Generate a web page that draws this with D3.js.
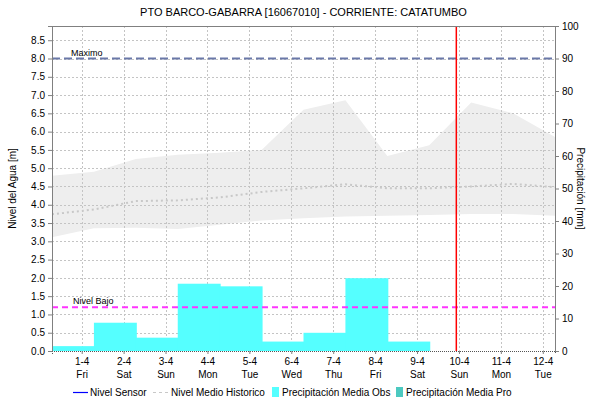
<!DOCTYPE html>
<html>
<head>
<meta charset="utf-8">
<script src="https://cdn.jsdelivr.net/npm/d3@7"></script>
<style>
  html, body { margin: 0; padding: 0; background: #fff; }
  svg { display: block; font-family: "Liberation Sans", Arial, sans-serif; }
</style>
</head>
<body>
<svg id="chart" width="590" height="402"></svg>
<script>
// Station level chart: historical band, median level, daily rainfall bars.
const title = "PTO BARCO-GABARRA [16067010] - CORRIENTE: CATATUMBO";

// Hydrological days run 07:00 to 07:00
const bandTimes = [
  "2022-03-31T07:00", "2022-04-01T07:00", "2022-04-02T07:00", "2022-04-03T07:00",
  "2022-04-04T07:00", "2022-04-05T07:00", "2022-04-06T07:00", "2022-04-07T07:00",
  "2022-04-08T07:00", "2022-04-09T07:00", "2022-04-10T07:00", "2022-04-11T07:00",
  "2022-04-12T07:00"
];
const bandUpper  = [4.79, 4.90, 5.25, 5.37, 5.42, 5.50, 6.60, 6.86, 5.33, 5.63, 6.80, 6.50, 5.85];
const bandLower  = [3.11, 3.36, 3.37, 3.34, 3.45, 3.57, 3.63, 3.68, 3.70, 3.72, 3.75, 3.75, 3.70];
const medianLevel = [3.74, 3.87, 4.10, 4.12, 4.20, 4.35, 4.45, 4.56, 4.45, 4.45, 4.50, 4.57, 4.48];

// Daily observed precipitation [mm], each bar starting at 07:00
const rainStart = [
  "2022-03-30T07:00", "2022-03-31T07:00", "2022-04-01T07:00", "2022-04-02T07:00",
  "2022-04-03T07:00", "2022-04-04T07:00", "2022-04-05T07:00", "2022-04-06T07:00",
  "2022-04-07T07:00", "2022-04-08T07:00"
];
const rainObs = [3.6, 1.5, 8.7, 4.1, 20.7, 19.9, 2.9, 5.6, 22.4, 2.9];

const dayTicks = ["2022-04-01", "2022-04-02", "2022-04-03", "2022-04-04", "2022-04-05", "2022-04-06",
                  "2022-04-07", "2022-04-08", "2022-04-09", "2022-04-10", "2022-04-11", "2022-04-12"];
const dayNames = ["Fri", "Sat", "Sun", "Mon", "Tue", "Wed", "Thu", "Fri", "Sat", "Sun", "Mon", "Tue"];

const levelMax = 8.0;
const levelLow = 1.2;
const nowTime = "2022-04-09T22:30";

const levelTicks = d3.range(0, 8.51, 0.5);
const rainTicks = d3.range(0, 101, 10);

const parse = d3.timeParse("%Y-%m-%dT%H:%M");
const parseDay = d3.timeParse("%Y-%m-%d");

const svg = d3.select("#chart");
const W = 590, H = 402;
const m = { left: 52, right: 35, top: 26, bottom: 51 };
const x0 = m.left, x1 = W - m.right, y0 = H - m.bottom, y1 = m.top;

const x = d3.scaleTime()
  .domain([parse("2022-03-31T07:00"), parse("2022-04-12T07:00")])
  .range([x0, x1]);
const yL = d3.scaleLinear().domain([0, 80 / 9]).range([y0, y1]);
const yR = d3.scaleLinear().domain([0, 100]).range([y0, y1]);

svg.append("defs").append("clipPath").attr("id", "plot")
  .append("rect").attr("x", x0).attr("y", y1).attr("width", x1 - x0).attr("height", y0 - y1);

const plot = svg.append("g").attr("clip-path", "url(#plot)");

// historical band
const band = bandTimes.map((t, i) => ({ t: parse(t), hi: bandUpper[i], lo: bandLower[i], med: medianLevel[i] }));
plot.append("path")
  .datum(band)
  .attr("fill", "#eeeeee")
  .attr("d", d3.area().x(d => x(d.t)).y0(d => yL(d.lo)).y1(d => yL(d.hi)));

// grid
const gridColor = "#c4c4c4";
plot.append("g").selectAll("line").data(levelTicks.filter(v => v > 0)).join("line")
  .attr("x1", x0).attr("x2", x1)
  .attr("y1", d => Math.round(yL(d)) + 0.5).attr("y2", d => Math.round(yL(d)) + 0.5)
  .attr("stroke", gridColor).attr("stroke-dasharray", "2,2");
plot.append("g").selectAll("line").data(dayTicks.map(parseDay)).join("line")
  .attr("x1", d => Math.round(x(d)) + 0.5).attr("x2", d => Math.round(x(d)) + 0.5)
  .attr("y1", y1).attr("y2", y0)
  .attr("stroke", gridColor).attr("stroke-dasharray", "2,2");

// rainfall bars
const day = 24 * 3600 * 1000;
plot.append("g").selectAll("rect").data(rainStart.map((t, i) => ({ t: parse(t), v: rainObs[i] }))).join("rect")
  .attr("x", d => x(d.t))
  .attr("width", d => x(new Date(+d.t + day)) - x(d.t) + 1)
  .attr("y", d => yR(d.v))
  .attr("height", d => y0 - yR(d.v))
  .attr("fill", "#55ffff");

// median historical level
plot.append("path")
  .datum(band)
  .attr("fill", "none")
  .attr("stroke", "#c8c8c8")
  .attr("stroke-width", 2)
  .attr("stroke-dasharray", "2,3")
  .attr("d", d3.line().x(d => x(d.t)).y(d => yL(d.med)));

// reference levels
plot.append("line")
  .attr("x1", x0).attr("x2", x1).attr("y1", yL(levelMax)).attr("y2", yL(levelMax))
  .attr("stroke", "#6a78a8").attr("stroke-width", 2).attr("stroke-dasharray", "8,4");
plot.append("line")
  .attr("x1", x0).attr("x2", x1).attr("y1", yL(levelLow)).attr("y2", yL(levelLow))
  .attr("stroke", "#ff33ff").attr("stroke-width", 2).attr("stroke-dasharray", "6,4");
svg.append("text").attr("x", 71).attr("y", yL(levelMax) - 3)
  .attr("font-size", 9).attr("fill", "#000").text("Maximo");
svg.append("text").attr("x", 73).attr("y", yL(levelLow) - 3)
  .attr("font-size", 9).attr("fill", "#000").text("Nivel Bajo");

// current time marker
plot.append("line")
  .attr("x1", x(parse(nowTime))).attr("x2", x(parse(nowTime)))
  .attr("y1", y1).attr("y2", y0)
  .attr("stroke", "#ff0000").attr("stroke-width", 1.5);

// axes
const axisColor = "#808080";
const left = svg.append("g").attr("transform", `translate(${x0},0)`)
  .call(d3.axisLeft(yL).tickValues(levelTicks).tickFormat(d3.format(".1f")).tickSize(4).tickPadding(3));
const right = svg.append("g").attr("transform", `translate(${x1},0)`)
  .call(d3.axisRight(yR).tickValues(rainTicks).tickSize(4).tickPadding(3));
const bottom = svg.append("g").attr("transform", `translate(0,${y0})`)
  .call(d3.axisBottom(x).tickValues(dayTicks.map(parseDay)).tickSize(3).tickFormat(() => ""));

[left, right, bottom].forEach(g => {
  g.selectAll(".domain").attr("stroke", axisColor);
  g.selectAll(".tick line").attr("stroke", axisColor);
  g.selectAll("text").attr("font-size", 10).attr("fill", "#000")
    .attr("font-family", "\"Liberation Sans\", Arial, sans-serif");
});
bottom.select(".domain").attr("stroke", "#555").attr("stroke-dasharray", "1,1");

// two-line day labels
bottom.selectAll(".tick").each(function (d, i) {
  const g = d3.select(this);
  g.append("text").attr("y", 14).attr("text-anchor", "middle").attr("font-size", 10).attr("fill", "#000")
    .text(d3.timeFormat("%-d-%-m")(d));
  g.append("text").attr("y", 27).attr("text-anchor", "middle").attr("font-size", 10).attr("fill", "#000")
    .text(dayNames[i]);
});

// frame top
svg.append("line").attr("x1", x0).attr("x2", x1).attr("y1", y1 + 0.5).attr("y2", y1 + 0.5).attr("stroke", axisColor);

// titles
svg.append("text").attr("x", (x0 + x1) / 2).attr("y", 16).attr("text-anchor", "middle")
  .attr("font-size", 11).text(title);
svg.append("text").attr("transform", `translate(16,${(y0 + y1) / 2}) rotate(-90)`)
  .attr("text-anchor", "middle").attr("font-size", 10).text("Nivel del Agua [m]");
svg.append("text").attr("transform", `translate(577,${(y0 + y1) / 2}) rotate(90)`)
  .attr("text-anchor", "middle").attr("font-size", 10).text("Precipitación [mm]");

// legend
const lg = svg.append("g").attr("font-size", 10);
const ly = 396;
lg.append("line").attr("x1", 73).attr("x2", 88).attr("y1", ly - 3.5).attr("y2", ly - 3.5).attr("stroke", "#0000ff").attr("stroke-width", 1.2);
lg.append("text").attr("x", 90).attr("y", ly).text("Nivel Sensor");
lg.append("line").attr("x1", 153).attr("x2", 168).attr("y1", ly - 3.5).attr("y2", ly - 3.5).attr("stroke", "#c8c8c8").attr("stroke-width", 1.2).attr("stroke-dasharray", "3,3");
lg.append("text").attr("x", 171).attr("y", ly).text("Nivel Medio Historico");
lg.append("rect").attr("x", 272).attr("y", ly - 9).attr("width", 7).attr("height", 10).attr("fill", "#55ffff");
lg.append("text").attr("x", 282).attr("y", ly).text("Precipitación Media Obs");
lg.append("rect").attr("x", 396).attr("y", ly - 9).attr("width", 7).attr("height", 10).attr("fill", "#4cc9c0");
lg.append("text").attr("x", 406).attr("y", ly).text("Precipitación Media Pro");
</script>
</body>
</html>
